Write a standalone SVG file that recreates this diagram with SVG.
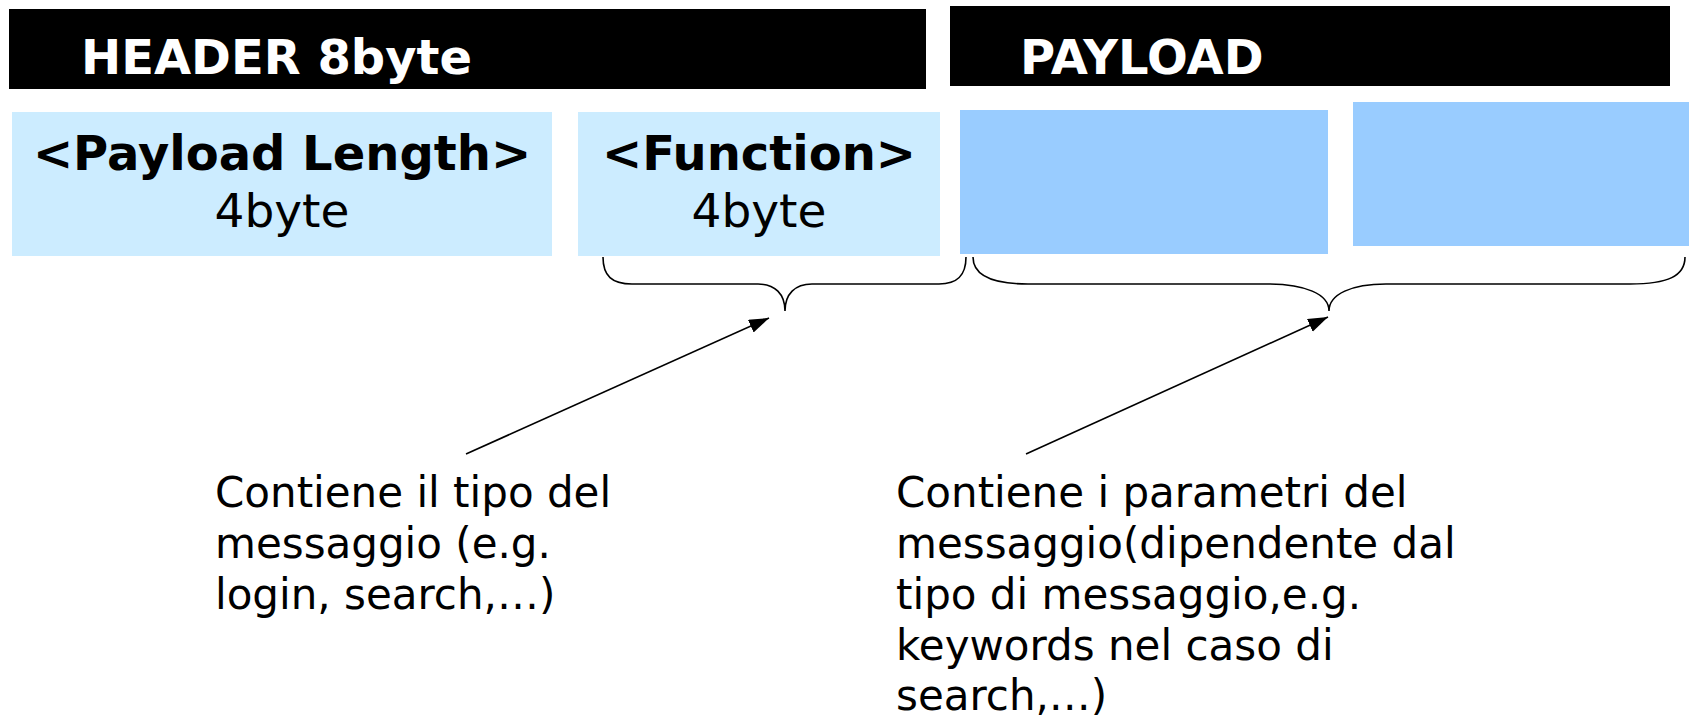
<svg xmlns="http://www.w3.org/2000/svg" width="1696" height="719" viewBox="0 0 1696 719">
<style>
.bar{fill:#000}
.bartxt{font-family:"DejaVu Sans",Verdana,sans-serif;font-weight:bold;font-size:48px;fill:#fff}
.hdr{fill:#CCECFF}
.pl{fill:#99CCFF}
.title{font-family:"DejaVu Sans",Verdana,sans-serif;font-weight:bold;font-size:48px;fill:#000;text-anchor:middle}
.sub{font-family:"DejaVu Sans",Verdana,sans-serif;font-size:47px;fill:#000;text-anchor:middle}
.note{font-family:"DejaVu Sans",Verdana,sans-serif;font-size:42px;fill:#000}
.brace{fill:none;stroke:#000;stroke-width:1.6}
.arrow{fill:none;stroke:#000;stroke-width:1.6}
</style>
<defs>
<marker id="ah" markerUnits="userSpaceOnUse" markerWidth="22" markerHeight="16" refX="20" refY="7" orient="auto">
<path d="M0,0 L20,7 L0,14 Z" fill="#000"/>
</marker>
</defs>
<rect width="1696" height="719" fill="#fff"/>
<g id="header-bar">
<rect class="bar" x="9" y="9" width="917" height="80"/>
<text class="bartxt" x="81" y="74">HEADER 8byte</text>
</g>
<g id="payload-bar">
<rect class="bar" x="950" y="6" width="720" height="80"/>
<text class="bartxt" x="1020" y="74">PAYLOAD</text>
</g>
<g id="payload-length">
<rect class="hdr" x="12" y="112" width="540" height="144"/>
<text class="title" x="282" y="170">&lt;Payload Length&gt;</text>
<text class="sub" x="282" y="227">4byte</text>
</g>
<g id="function">
<rect class="hdr" x="578" y="112" width="362" height="144"/>
<text class="title" x="759" y="170">&lt;Function&gt;</text>
<text class="sub" x="759" y="227">4byte</text>
</g>
<g id="payload-1">
<rect class="pl" x="960" y="110" width="368" height="144"/>
</g>
<g id="payload-2">
<rect class="pl" x="1353" y="102" width="336" height="144"/>
</g>
<g id="connectors">
<path class="brace" d="M603,257 C603,276 612,284 632,284 L758,284 C775,284 785,294 785,311 C785,294 795,284 812,284 L939,284 C957,284 966,276 966,257"/>
<path class="brace" d="M973,257 C973,276 992,284 1028,284 L1267,284 C1305,284 1329,294 1329,311 C1329,294 1352,284 1386,284 L1630,284 C1668,284 1685,276 1685,257"/>
<line class="arrow" x1="466" y1="454" x2="769" y2="318" marker-end="url(#ah)"/>
<line class="arrow" x1="1026" y1="454" x2="1328" y2="317" marker-end="url(#ah)"/>
</g>
<g id="note-function">
<text class="note" x="215" y="507">Contiene il tipo del</text>
<text class="note" x="215" y="558">messaggio (e.g.</text>
<text class="note" x="215" y="609">login, search,…)</text>
</g>
<g id="note-payload">
<text class="note" x="896" y="507">Contiene i parametri del</text>
<text class="note" x="896" y="558">messaggio(dipendente dal</text>
<text class="note" x="896" y="609">tipo di messaggio,e.g.</text>
<text class="note" x="896" y="660">keywords nel caso di</text>
<text class="note" x="896" y="710">search,…)</text>
</g>
</svg>
